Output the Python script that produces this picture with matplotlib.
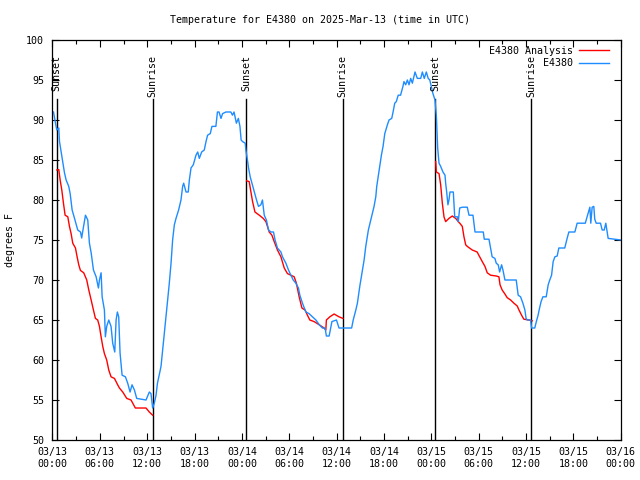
import numpy as np
import pandas as pd
import matplotlib
matplotlib.use("Agg")
import matplotlib.pyplot as plt
import matplotlib.dates as mdates

plt.rcParams['font.family'] = ['DejaVu Sans Mono']
plt.rcParams['font.size'] = 7.2

start = pd.Timestamp("2025-03-13 00:00")

# observed temperature (hours since 03/13 00:00 UTC, degrees F)
obs_hours = [0.13, 0.38, 0.55, 0.8, 0.89, 1.1, 1.3, 1.52, 1.73, 2.06, 2.24, 2.49, 2.78, 3.2, 3.55, 3.7, 3.82,
             4.18, 4.47, 4.68, 4.9, 5.19, 5.53, 5.82, 5.95, 6.16, 6.29, 6.58, 6.7, 6.87, 7.13, 7.42, 7.63,
             7.89, 8.06, 8.22, 8.39, 8.56, 8.82, 9.24, 9.53, 9.83, 10.08, 10.38, 10.67, 11.85, 12.27, 12.48,
             12.69, 12.9, 13.12, 13.3, 13.75, 13.96, 14.17, 14.39, 14.59, 14.8, 15.02, 15.22, 15.44, 15.65,
             15.98, 16.28, 16.49, 16.62, 16.92, 17.2, 17.34, 17.55, 17.84, 18.18, 18.4, 18.6, 18.9, 19.23,
             19.45, 19.65, 19.99, 20.2, 20.7, 20.9, 21.1, 21.35, 21.55, 21.98, 22.6, 22.8, 23.0, 23.3, 23.55,
             23.75, 23.9, 24.08, 24.42, 24.5, 24.7, 24.84, 25.05, 25.27, 25.56, 25.85, 26.1, 26.4, 26.6,
             26.83, 27.1, 27.37, 27.67, 28.0, 28.2, 28.5, 28.94, 29.14, 29.57, 29.9, 30.2, 30.5, 30.83,
             31.16, 31.34, 31.67, 32.1, 32.5, 32.94, 33.37, 33.8, 34.2, 34.54, 34.7, 35.05, 35.4, 35.98,
             36.3, 37.9, 38.1, 38.43, 38.63, 38.93, 39.27, 39.48, 39.69, 40.02, 40.33, 40.53, 40.74, 40.96,
             41.08, 41.29, 41.46, 41.67, 41.88, 42.1, 42.43, 42.64, 42.98, 43.15, 43.36, 43.56, 43.8, 44.1,
             44.4, 44.53, 44.75, 44.96, 45.17, 45.38, 45.59, 45.93, 46.22, 46.65, 46.86, 47.1, 47.36, 47.6,
             47.8, 48.04, 48.2, 48.46, 48.63, 48.7, 48.8, 48.97, 49.18, 49.47, 49.73, 49.81, 49.94, 50.1,
             50.23, 50.36, 50.78, 50.96, 51.3, 51.41, 51.59, 51.92, 52.55, 52.77, 53.27, 53.53, 54.58, 54.7,
             55.3, 55.5, 55.7, 56.05, 56.22, 56.47, 56.65, 56.9, 57.07, 57.32, 58.75, 59.0, 59.3, 59.6,
             59.85, 60.0, 60.15, 60.57, 60.7, 61.1, 61.3, 61.52, 61.71, 61.9, 62.13, 62.55, 62.8, 63.0,
             63.23, 63.43, 63.65, 63.94, 64.15, 64.9, 65.2, 65.42, 66.18, 66.47, 67.5, 67.73, 67.95, 68.08,
             68.2, 68.37, 68.58, 68.7, 68.88, 69.43, 69.64, 69.9, 70.1, 70.4, 72.0]
obs_temp = [91.0, 89.6, 88.75, 89.0, 87.3, 86.0, 84.8, 83.4, 82.5, 81.7, 80.8, 78.75, 77.75, 76.25, 76.0, 75.25, 76.0,
            78.1, 77.5, 74.6, 73.4, 71.25, 70.4, 69.0, 70.0, 70.9, 67.9, 66.25, 62.9, 64.2, 65.0, 64.2, 62.1,
            61.0, 65.0, 66.0, 65.4, 60.9, 58.1, 57.9, 57.1, 56.0, 56.9, 56.25, 55.2, 55.0, 56.0, 55.8,
            54.0, 54.6, 55.6, 57.1, 59.2, 61.25, 63.4, 65.4, 67.5, 69.6, 72.1, 75.0, 76.9, 77.7,
            78.75, 80.0, 81.7, 82.1, 81.0, 81.0, 82.5, 84.0, 84.4, 85.6, 86.0, 85.2, 86.0, 86.25,
            87.3, 88.1, 88.3, 89.2, 89.2, 91.0, 91.0, 90.2, 90.8, 91.0, 91.0, 90.6, 91.0, 89.6, 90.2,
            89.2, 87.5, 87.3, 87.1, 86.25, 85.0, 84.0, 82.9, 82.1, 81.0, 80.0, 79.2, 79.4, 80.0,
            78.1, 77.5, 76.25, 76.0, 76.0, 75.0, 74.0, 73.5, 72.9, 72.1, 71.25, 70.6, 70.0, 69.6,
            69.0, 68.1, 67.1, 66.0, 65.8, 65.4, 65.0, 64.4, 64.0, 64.0, 63.0, 63.0, 64.8, 65.0,
            64.0, 64.0, 65.0, 66.25, 67.1, 69.2, 71.25, 72.5, 74.2, 76.25, 77.5, 78.3, 79.2, 80.4,
            81.7, 83.1, 84.2, 85.6, 86.7, 88.3, 89.4, 90.0, 90.2, 91.0, 92.1, 92.3, 93.1, 93.1,
            94.2, 94.8, 94.4, 95.0, 94.4, 95.2, 94.6, 96.0, 95.2, 95.2, 96.0, 95.2, 96.0, 95.2,
            95.0, 94.0, 93.3, 92.5, 90.6, 89.0, 86.5, 84.6, 84.2, 83.5, 83.1, 82.1, 81.0, 79.4,
            80.0, 81.0, 81.0, 77.9, 77.9, 77.3, 79.0, 79.1, 79.1, 78.1, 78.1, 76.0, 76.0, 75.1,
            75.1, 74.0, 72.9, 72.7, 72.1, 71.9, 71.0, 71.9, 71.25, 70.0, 70.0, 68.1, 67.9, 67.1,
            66.25, 65.2, 65.0, 65.0, 64.0, 64.0, 64.8, 65.6, 66.5, 67.3, 67.9, 67.9, 69.4, 70.0,
            70.6, 72.3, 72.9, 73.0, 74.0, 74.0, 75.2, 76.0, 76.0, 77.1, 77.1, 77.9, 78.7, 79.1,
            77.1, 79.1, 79.2, 77.6, 77.1, 77.1, 76.25, 76.25, 77.1, 75.2, 75.0]

# analysis, one segment per night
ana_hours = [
    [0.55, 0.8, 0.97, 1.18, 1.39, 1.6, 1.94, 2.15, 2.36, 2.57, 2.91, 3.12, 3.33, 3.54, 3.96, 4.34, 4.6,
     4.9, 5.19, 5.44, 5.73, 5.95, 6.16, 6.37, 6.58, 6.87, 7.13, 7.42, 7.85, 8.26, 8.48, 8.9, 9.41,
     9.95, 10.5, 11.22, 11.85, 12.27, 12.69],
    [24.59, 24.92, 25.14, 25.35, 25.65, 26.2, 26.7, 27.04, 27.46, 27.8, 28.09, 28.5, 28.94, 29.36,
     29.77, 30.2, 30.62, 30.9, 31.25, 31.6, 32.0, 32.3, 32.6, 33.15, 33.8, 34.4, 34.63, 34.7, 35.14,
     35.68, 36.3, 36.8],
    [48.55, 48.63, 48.97, 49.18, 49.39, 49.6, 49.81, 50.23, 50.65, 51.08, 51.41, 51.6, 51.92, 52.13,
     52.35, 52.55, 53.18, 53.8, 54.12, 54.45, 54.79, 55.08, 55.5, 56.22, 56.56, 56.7, 56.97, 57.32,
     57.6, 58.04, 58.46, 58.88, 59.1, 59.43, 59.72, 60.36, 60.78],
]
ana_temp = [
    [83.75, 83.8, 82.5, 81.25, 79.6, 78.1, 77.9, 76.7, 75.8, 74.6, 74.0, 72.9, 71.9, 71.2, 70.9, 70.0, 68.75,
     67.5, 66.25, 65.2, 65.0, 64.2, 62.9, 61.7, 60.8, 60.0, 58.75, 57.9, 57.7, 56.9, 56.5, 56.0, 55.2,
     55.0, 54.0, 54.0, 54.0, 53.5, 53.1],
    [82.4, 82.3, 81.0, 79.8, 78.5, 78.1, 77.7, 77.3, 76.0, 75.6, 74.8, 73.75, 72.9, 71.5,
     70.8, 70.6, 70.4, 69.6, 67.9, 66.5, 66.25, 65.6, 65.0, 64.8, 64.4, 64.0, 63.75, 65.0, 65.4,
     65.75, 65.4, 65.2],
    [84.8, 83.5, 83.3, 81.9, 79.6, 77.9, 77.3, 77.7, 78.0, 77.7, 77.3, 77.1, 76.7, 75.4,
     74.4, 74.2, 73.75, 73.5, 72.9, 72.3, 71.7, 70.9, 70.6, 70.5, 70.4, 69.4, 68.75, 68.25,
     67.8, 67.5, 67.1, 66.75, 66.25, 65.6, 65.1, 65.0, 64.9],
]

sun_hours = [0.55, 12.7, 24.57, 36.75, 48.46, 60.65]
sun_labels = ["Sunset", "Sunrise", "Sunset", "Sunrise", "Sunset", "Sunrise"]


def to_time(hours):
    return start + pd.to_timedelta(np.array(hours), unit="h")


fig = plt.figure(figsize=(6.4, 4.8), dpi=100)
ax = fig.add_axes([0.082, 0.0833, 0.888, 0.8334])

for h, lab in zip(sun_hours, sun_labels):
    t = to_time([h])[0]
    ax.axvline(t, ymin=0, ymax=0.852, color="black", lw=1.0)
    ax.text(t, 0.962, lab, rotation=90, ha="center", va="top",
            transform=ax.get_xaxis_transform())

for i in range(len(ana_hours)):
    red, = ax.plot(to_time(ana_hours[i]), ana_temp[i], color="#ff0000", lw=1.0)
blue, = ax.plot(to_time(obs_hours), obs_temp, color="#1e8cff", lw=1.0)

ax.set_xlim(start, start + pd.Timedelta(hours=72))
ax.set_ylim(50, 100)
ax.set_yticks(np.arange(50, 101, 5))
ax.xaxis.set_major_locator(mdates.HourLocator(byhour=[0, 6, 12, 18]))
ax.xaxis.set_minor_locator(mdates.HourLocator(byhour=[3, 9, 15, 21]))
ax.xaxis.set_major_formatter(mdates.DateFormatter("%m/%d\n%H:%M"))
ax.tick_params(which="both", direction="in", top=True, right=True, width=0.8)
ax.tick_params(which="major", length=5)
ax.tick_params(which="minor", length=3)
ax.tick_params(axis="x", pad=5)
ax.tick_params(axis="y", pad=6)
for s in ax.spines.values():
    s.set_linewidth(0.9)

ax.set_ylabel("degrees F", labelpad=8)
fig.suptitle("Temperature for E4380 on 2025-Mar-13 (time in UTC)", y=0.969, fontsize=7.2)

ax.legend([red, blue], ["E4380 Analysis", "E4380"], loc="upper right", frameon=False,
          bbox_to_anchor=(0.99, 1.0), markerfirst=False, handlelength=3.0,
          handletextpad=0.6, labelspacing=0.25, borderaxespad=0.3, borderpad=0.3)

fig.savefig("out.png", dpi=100)
